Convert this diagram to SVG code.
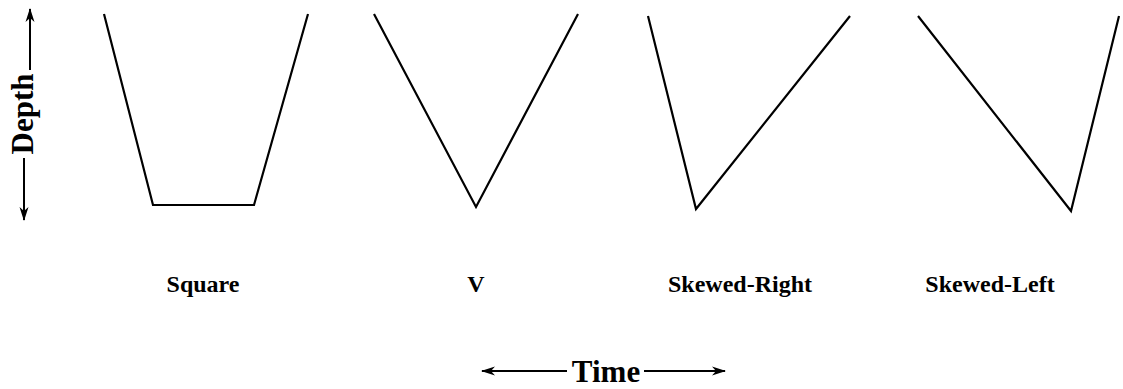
<svg xmlns="http://www.w3.org/2000/svg" width="1123" height="389" viewBox="0 0 1123 389">
<style>
.shape{fill:none;stroke:#000;stroke-width:2.2;stroke-linejoin:miter}
.axis{fill:none;stroke:#000;stroke-width:2}
.lbl{font-family:"Liberation Serif","Times New Roman",serif;font-weight:bold;font-size:24px;fill:#000}
.ax{font-family:"Liberation Serif","Times New Roman",serif;font-weight:bold;font-size:31px;fill:#000}
</style>
<defs>
<marker id="ah" viewBox="0 0 14 10" refX="13" refY="5" markerWidth="14" markerHeight="10" markerUnits="userSpaceOnUse" orient="auto-start-reverse">
<path d="M0,0.5 L14,5 L0,9.5 L4,5 Z" fill="#000"/>
</marker>
</defs>
<g id="square"><polyline class="shape" points="104,14 153,205 254,205 308,14"/><text class="lbl" x="203" y="292" text-anchor="middle">Square</text></g>
<g id="v"><polyline class="shape" points="374,14 476,207 578,14"/><text class="lbl" x="476" y="292" text-anchor="middle">V</text></g>
<g id="skewed-right"><polyline class="shape" points="648,16 696,209 850,16"/><text class="lbl" x="740" y="292" text-anchor="middle">Skewed-Right</text></g>
<g id="skewed-left"><polyline class="shape" points="918,16 1071,211 1119,16"/><text class="lbl" x="990" y="292" text-anchor="middle">Skewed-Left</text></g>
<g id="depth-axis">
<text class="ax" transform="translate(33,114) rotate(-90)" text-anchor="middle">Depth</text>
</g>
<g id="time-axis">
<text class="ax" x="606" y="382" text-anchor="middle">Time</text>
</g>
<g id="connectors">
<line class="axis" x1="30" y1="70" x2="30" y2="9" marker-end="url(#ah)"/>
<line class="axis" x1="24" y1="158" x2="24" y2="220" marker-end="url(#ah)"/>
<line class="axis" x1="567" y1="371" x2="482" y2="371" marker-end="url(#ah)"/>
<line class="axis" x1="644" y1="371" x2="725" y2="371" marker-end="url(#ah)"/>
</g>
</svg>
